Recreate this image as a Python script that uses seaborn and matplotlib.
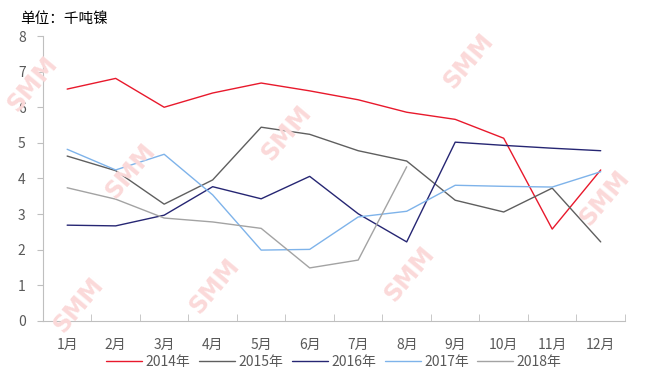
import numpy as np
import matplotlib
matplotlib.use("Agg")
import matplotlib.pyplot as plt
import pandas as pd
import seaborn as sns

# 月份和各年度数据（千吨镍）
months = ["1月", "2月", "3月", "4月", "5月", "6月", "7月", "8月", "9月", "10月", "11月", "12月"]
v2014 = [6.51, 6.81, 6.00, 6.40, 6.68, 6.46, 6.21, 5.86, 5.66, 5.13, 2.58, 4.24]
v2015 = [4.63, 4.22, 3.28, 3.96, 5.44, 5.24, 4.78, 4.49, 3.39, 3.06, 3.73, 2.22]
v2016 = [2.69, 2.67, 2.97, 3.77, 3.43, 4.06, 3.01, 2.22, 5.02, 4.93, 4.85, 4.78]
v2017 = [4.82, 4.24, 4.68, 3.54, 1.99, 2.01, 2.92, 3.08, 3.81, 3.78, 3.76, 4.19]
v2018 = [3.74, 3.42, 2.89, 2.78, 2.60, 1.49, 1.71, 4.33]
years = ["2014年", "2015年", "2016年", "2017年", "2018年"]
colors = ["#e8192c", "#5f5f5f", "#262673", "#7eb3ea", "#a3a3a3"]

rows = []
for y, vals in zip(years, [v2014, v2015, v2016, v2017, v2018]):
    for i, v in enumerate(vals):
        rows.append({"month": i, "year": y, "value": v})
df = pd.DataFrame(rows)

sns.set_style("white")
plt.rcParams['font.family'] = ['Noto Sans CJK SC', 'DejaVu Sans']

fig = plt.figure(figsize=(6.5, 3.81), dpi=100)
ax = fig.add_axes([0.066, 0.1575, 0.8955, 0.748])

# 水印（淡）
for (wx, wy) in [(0.05, 0.78), (0.2, 0.55), (0.44, 0.65), (0.72, 0.84), (0.93, 0.48),
                 (0.33, 0.25), (0.63, 0.28), (0.12, 0.2)]:
    fig.text(wx, wy, "SMM", color="#fbd9d9", fontsize=17, fontweight="bold",
             rotation=50, ha="center", va="center", family="DejaVu Sans", zorder=0)

sns.lineplot(data=df, x="month", y="value", hue="year", palette=colors,
             linewidth=1.0, ax=ax, legend=False)

ax.set_xlim(-0.5, 11.5)
ax.set_ylim(0, 8)
ax.set_xticks(range(12))
ax.set_xticklabels(months)
ax.set_xticks(np.arange(-0.5, 12, 1), minor=True)
ax.tick_params(axis="x", which="major", length=0, pad=12, labelsize=10, labelcolor="#595959")
ax.tick_params(axis="x", which="minor", length=5, color="#bfbfbf", direction="in", bottom=True)
ax.set_yticks(range(9))
ax.tick_params(axis="y", length=4, color="#bfbfbf", direction="out", left=True,
               labelsize=10, labelcolor="#595959", pad=14)
for lab in ax.get_yticklabels():
    lab.set_horizontalalignment("left")
ax.set_xlabel("")
ax.set_ylabel("")
for s in ["top", "right"]:
    ax.spines[s].set_visible(False)
for s in ["left", "bottom"]:
    ax.spines[s].set_color("#bfbfbf")
ax.patch.set_alpha(0)

handles = [plt.Line2D([], [], color=c, lw=1.0) for c in colors]
ax.legend(handles, years, loc="upper center", bbox_to_anchor=(0.5, -0.075), ncol=5,
          frameon=False, fontsize=10, handlelength=2.6, handletextpad=0.25, columnspacing=0.6,
          labelcolor="#595959")

fig.text(0.031, 0.95, "单位：千吨镍", fontsize=10.5, color="black", va="center")

fig.savefig("out.png", dpi=100)
